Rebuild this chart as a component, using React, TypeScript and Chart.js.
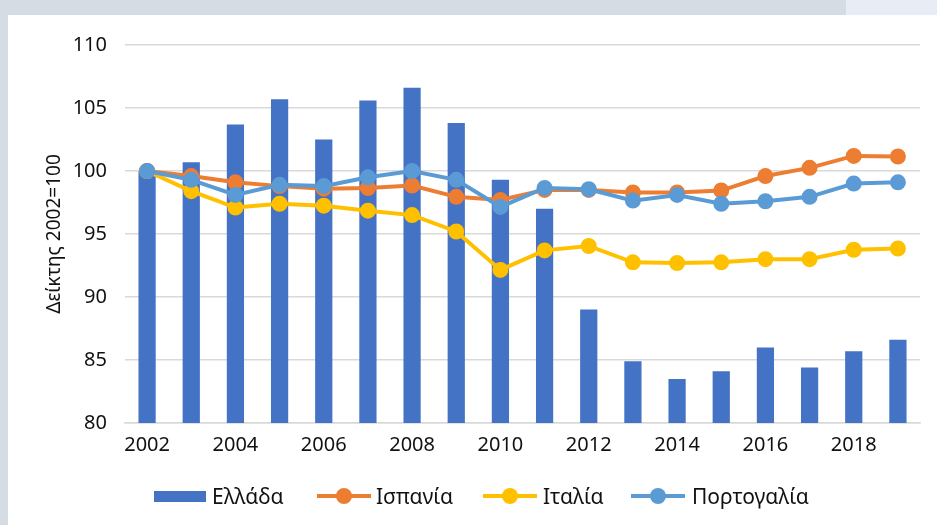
import React, { useEffect, useRef } from "react";
import { Chart, registerables } from "chart.js";

Chart.register(...registerables);

const years = ["2002","2003","2004","2005","2006","2007","2008","2009","2010","2011","2012","2013","2014","2015","2016","2017","2018","2019"];
const greece = [100, 100.7, 103.7, 105.7, 102.5, 105.6, 106.6, 103.8, 99.3, 97.0, 89.0, 84.9, 83.5, 84.1, 86.0, 84.4, 85.7, 86.6];
const spain = [100, 99.6, 99.1, 98.8, 98.6, 98.65, 98.85, 97.95, 97.7, 98.5, 98.5, 98.3, 98.3, 98.45, 99.6, 100.25, 101.2, 101.15];
const italy = [100, 98.4, 97.1, 97.4, 97.25, 96.85, 96.5, 95.2, 92.15, 93.7, 94.05, 92.75, 92.7, 92.75, 93.0, 93.0, 93.75, 93.85];
const portugal = [100, 99.3, 98.1, 98.9, 98.8, 99.5, 100.0, 99.3, 97.15, 98.65, 98.55, 97.65, 98.1, 97.4, 97.6, 97.95, 99.0, 99.1];
const seriesNames = ["Ελλάδα", "Ισπανία", "Ιταλία", "Πορτογαλία"];
const yTitle = "Δείκτης 2002=100";

const C_BAR = "#4472c4";
const C_ES = "#ed7d31";
const C_IT = "#ffc000";
const C_PT = "#5b9bd5";
const FONT = "'Noto Sans', sans-serif";

function lineDs(label: string, data: number[], color: string, order: number) {
  return {
    type: "line" as const,
    label,
    data,
    borderColor: color,
    backgroundColor: color,
    borderWidth: 4,
    pointRadius: 7,
    pointBorderWidth: 2,
    pointBorderColor: color,
    pointBackgroundColor: color,
    tension: 0,
    order,
  };
}

export default function App() {
  const ref = useRef<HTMLCanvasElement | null>(null);

  useEffect(() => {
    document.body.style.margin = "0";
    const ctx = ref.current!.getContext("2d")!;
    const chart = new Chart(ctx, {
      type: "bar",
      data: {
        labels: years,
        datasets: [
          {
            type: "bar" as const,
            label: seriesNames[0],
            data: greece,
            backgroundColor: C_BAR,
            barPercentage: 0.39,
            categoryPercentage: 1,
            order: 10,
          },
          lineDs(seriesNames[1], spain, C_ES, 2),
          lineDs(seriesNames[2], italy, C_IT, 3),
          lineDs(seriesNames[3], portugal, C_PT, 1),
        ] as any,
      },
      options: {
        responsive: false,
        animation: false,
        layout: { padding: { left: 40, right: 17, top: 45, bottom: 0 } },
        plugins: { legend: { display: false }, tooltip: { enabled: false } },
        scales: {
          x: {
            grid: { display: false, drawTicks: false },
            border: { display: true, color: "#d9d9d9", width: 1.5 },
            ticks: {
              autoSkip: false,
              maxRotation: 0,
              padding: 10,
              color: "#111111",
              font: { family: FONT, size: 20 },
              callback: (_v: any, i: number) => (i % 2 === 0 ? years[i] : ""),
            },
            afterFit: (s: any) => { s.height = 102; },
          },
          y: {
            min: 80,
            max: 110,
            ticks: {
              stepSize: 5,
              padding: 18,
              color: "#111111",
              font: { family: FONT, size: 20 },
            },
            grid: { color: "#d9d9d9", lineWidth: 1.5, drawTicks: false },
            border: { display: false },
            title: {
              display: true,
              text: yTitle,
              color: "#111111",
              font: { family: FONT, size: 19 },
              padding: { top: 3, bottom: 0 },
            },
            afterFit: (s: any) => { s.width = 85; },
          },
        },
      },
    });
    return () => chart.destroy();
  }, []);

  const textStyle: React.CSSProperties = {
    position: "absolute",
    top: 496,
    transform: "translateY(-50%)",
    fontFamily: FONT,
    fontSize: 21,
    color: "#111111",
    whiteSpace: "nowrap",
    lineHeight: 1,
  };
  const marker = (left: number, color: string) => (
    <>
      <div style={{ position: "absolute", left, top: 494, width: 54, height: 4, background: color }} />
      <div style={{ position: "absolute", left: left + 27 - 8, top: 488, width: 16, height: 16, borderRadius: 8, background: color }} />
    </>
  );

  return (
    <div style={{ position: "relative", width: 937, height: 525, background: "#d6dce4", overflow: "hidden" }}>
      <div style={{ position: "absolute", left: 846, top: 0, width: 91, height: 15, background: "#e8edf5" }} />
      <div style={{ position: "absolute", left: 8, top: 15, width: 929, height: 510, background: "#ffffff" }} />
      <canvas ref={ref} width={937} height={525} style={{ position: "absolute", left: 0, top: 0 }} />
      <div style={{ position: "absolute", left: 154, top: 491, width: 52, height: 11, background: C_BAR }} />
      <span style={{ ...textStyle, left: 212 }}>{seriesNames[0]}</span>
      {marker(317, C_ES)}
      <span style={{ ...textStyle, left: 376 }}>{seriesNames[1]}</span>
      {marker(483, C_IT)}
      <span style={{ ...textStyle, left: 543 }}>{seriesNames[2]}</span>
      {marker(631, C_PT)}
      <span style={{ ...textStyle, left: 692 }}>{seriesNames[3]}</span>
    </div>
  );
}
